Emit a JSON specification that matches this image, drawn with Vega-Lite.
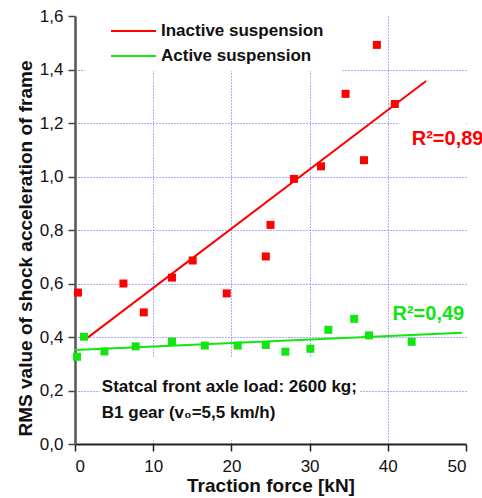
{
  "$schema": "https://vega.github.io/schema/vega-lite/v6.json",
  "width": 391,
  "height": 428,
  "autosize": {"type": "none"},
  "padding": {"left": 75, "top": 16, "right": 16, "bottom": 54},
  "background": "white",
  "config": {
    "view": {"stroke": null},
    "font": "Liberation Sans"
  },
  "datasets": {
    "points": [
      {"series": "Inactive suspension", "force": 0.38, "rms": 0.566},
      {"series": "Inactive suspension", "force": 6.19, "rms": 0.600},
      {"series": "Inactive suspension", "force": 8.79, "rms": 0.492},
      {"series": "Inactive suspension", "force": 12.4, "rms": 0.622},
      {"series": "Inactive suspension", "force": 15.05, "rms": 0.686},
      {"series": "Inactive suspension", "force": 19.4, "rms": 0.563},
      {"series": "Inactive suspension", "force": 24.4, "rms": 0.701},
      {"series": "Inactive suspension", "force": 25.0, "rms": 0.819},
      {"series": "Inactive suspension", "force": 28.0, "rms": 0.991},
      {"series": "Inactive suspension", "force": 31.46, "rms": 1.038},
      {"series": "Inactive suspension", "force": 34.6, "rms": 1.309},
      {"series": "Inactive suspension", "force": 36.96, "rms": 1.061},
      {"series": "Inactive suspension", "force": 38.6, "rms": 1.492},
      {"series": "Inactive suspension", "force": 40.9, "rms": 1.271},
      {"series": "Active suspension", "force": 0.26, "rms": 0.326},
      {"series": "Active suspension", "force": 1.15, "rms": 0.401},
      {"series": "Active suspension", "force": 3.76, "rms": 0.346},
      {"series": "Active suspension", "force": 7.76, "rms": 0.365},
      {"series": "Active suspension", "force": 12.4, "rms": 0.383},
      {"series": "Active suspension", "force": 16.6, "rms": 0.368},
      {"series": "Active suspension", "force": 20.8, "rms": 0.368},
      {"series": "Active suspension", "force": 24.4, "rms": 0.370},
      {"series": "Active suspension", "force": 26.9, "rms": 0.345},
      {"series": "Active suspension", "force": 30.1, "rms": 0.356},
      {"series": "Active suspension", "force": 32.4, "rms": 0.427},
      {"series": "Active suspension", "force": 35.7, "rms": 0.468},
      {"series": "Active suspension", "force": 37.6, "rms": 0.406},
      {"series": "Active suspension", "force": 43.05, "rms": 0.382}
    ],
    "fits": [
      {"series": "Inactive suspension", "force": 1.37, "rms": 0.392},
      {"series": "Inactive suspension", "force": 44.9, "rms": 1.357},
      {"series": "Active suspension", "force": 0, "rms": 0.351},
      {"series": "Active suspension", "force": 49.5, "rms": 0.416}
    ],
    "boxes": [
      {"force": 1.25, "force2": 34.2, "rms": 1.393, "rms2": 1.6},
      {"force": 41.5, "force2": 50, "rms": 1.15, "rms2": 1.25},
      {"force": 3.2, "force2": 36.4, "rms": 0.015, "rms2": 0.322}
    ]
  },
  "layer": [
    {
      "data": {"name": "boxes"},
      "mark": {"type": "rect", "fill": "white", "stroke": null},
      "encoding": {
        "x": {"field": "force", "type": "quantitative", "scale": {"domain": [0, 50], "nice": false}},
        "x2": {"field": "force2"},
        "y": {"field": "rms", "type": "quantitative", "scale": {"domain": [0, 1.6], "nice": false}},
        "y2": {"field": "rms2"}
      }
    },
    {
      "data": {"name": "fits"},
      "mark": {"type": "line", "strokeWidth": 2},
      "encoding": {
        "x": {"field": "force", "type": "quantitative", "scale": {"domain": [0, 50], "nice": false}},
        "y": {"field": "rms", "type": "quantitative", "scale": {"domain": [0, 1.6], "nice": false}},
        "detail": {"field": "series"},
        "color": {
          "field": "series",
          "type": "nominal",
          "scale": {"domain": ["Inactive suspension", "Active suspension"], "range": ["#ff0000", "#11e611"]},
          "legend": {
            "title": null,
            "orient": "none",
            "legendX": 35,
            "legendY": 6.5,
            "symbolType": "stroke",
            "symbolSize": 2025,
            "symbolStrokeWidth": 2,
            "clipHeight": 17,
            "rowPadding": 7,
            "labelOffset": 4,
            "labelLimit": 0,
            "labelFontSize": 17,
            "labelFontWeight": "bold",
            "labelColor": "#111111",
            "labelFont": "Liberation Sans",
            "padding": 0
          }
        }
      }
    },
    {
      "data": {"name": "points"},
      "mark": {"type": "point", "shape": "square", "filled": true, "size": 64, "opacity": 1},
      "encoding": {
        "x": {
          "field": "force",
          "type": "quantitative",
          "scale": {"domain": [0, 50], "nice": false},
          "axis": {
            "title": "Traction force [kN]",
            "values": [0, 5, 10, 15, 20, 25, 30, 35, 40, 45, 50],
            "labelExpr": "datum.value % 10 == 0 ? datum.label : ''",
            "labelFontSize": 17,
            "labelColor": "#111111",
            "labelPadding": 7,
            "labelFont": "Liberation Sans",
            "tickSize": {"condition": {"test": "datum.value % 10 != 0", "value": 4}, "value": 7},
            "tickColor": "#222222",
            "tickWidth": 1.5,
            "domainColor": "#222222",
            "domainWidth": 2,
            "grid": true,
            "gridColor": "#5a5af0",
            "gridDash": [1, 2],
            "gridWidth": 1,
            "gridOpacity": {"condition": {"test": "datum.value % 10 != 0 || datum.value == 0 || datum.value == 50", "value": 0}, "value": 1},
            "titleFontSize": 19,
            "titleFontWeight": "bold",
            "titleColor": "#111111",
            "titleFont": "Liberation Sans",
            "titlePadding": 2
          }
        },
        "y": {
          "field": "rms",
          "type": "quantitative",
          "scale": {"domain": [0, 1.6], "nice": false},
          "axis": {
            "title": "RMS value of shock acceleration of frame",
            "values": [0, 0.1, 0.2, 0.3, 0.4, 0.5, 0.6, 0.7, 0.8, 0.9, 1.0, 1.1, 1.2, 1.3, 1.4, 1.5, 1.6],
            "labelExpr": "round(datum.value * 10) % 2 == 0 ? replace(format(datum.value, '.1f'), '.', ',') : ''",
            "labelFontSize": 17,
            "labelColor": "#111111",
            "labelPadding": 5,
            "labelFont": "Liberation Sans",
            "tickSize": {"condition": {"test": "round(datum.value * 10) % 2 != 0", "value": 4}, "value": 7},
            "tickColor": "#444444",
            "tickWidth": 1.5,
            "domainColor": "#555555",
            "domainWidth": 2.5,
            "grid": true,
            "gridColor": "#5a5af0",
            "gridDash": [1, 2],
            "gridWidth": 1,
            "gridOpacity": {"condition": {"test": "round(datum.value * 10) % 2 != 0 || datum.value < 0.05 || datum.value > 1.55", "value": 0}, "value": 1},
            "titleFontSize": 19,
            "titleFontWeight": "bold",
            "titleColor": "#111111",
            "titleFont": "Liberation Sans",
            "titlePadding": 4,
            "titleY": 232
          }
        },
        "color": {
          "field": "series",
          "type": "nominal",
          "scale": {"domain": ["Inactive suspension", "Active suspension"], "range": ["#ff0000", "#11e611"]},
          "legend": null
        }
      }
    },
    {
      "data": {"values": [{}]},
      "mark": {"type": "text", "text": "R²=0,89", "fontSize": 20, "fontWeight": "bold", "color": "#ff0000", "align": "left", "baseline": "alphabetic", "font": "Liberation Sans"},
      "encoding": {
        "x": {"datum": 43.06, "type": "quantitative", "scale": {"domain": [0, 50], "nice": false}},
        "y": {"datum": 1.118, "type": "quantitative", "scale": {"domain": [0, 1.6], "nice": false}}
      }
    },
    {
      "data": {"values": [{}]},
      "mark": {"type": "text", "text": "R²=0,49", "fontSize": 20, "fontWeight": "bold", "color": "#11e611", "align": "left", "baseline": "alphabetic", "font": "Liberation Sans"},
      "encoding": {
        "x": {"datum": 40.6, "type": "quantitative", "scale": {"domain": [0, 50], "nice": false}},
        "y": {"datum": 0.464, "type": "quantitative", "scale": {"domain": [0, 1.6], "nice": false}}
      }
    },
    {
      "data": {"values": [{}]},
      "mark": {"type": "text", "text": ["Statcal front axle load: 2600 kg;", "B1 gear (v₀=5,5 km/h)"], "lineHeight": 26, "fontSize": 17, "fontWeight": "bold", "color": "#111111", "align": "left", "baseline": "alphabetic", "font": "Liberation Sans"},
      "encoding": {
        "x": {"datum": 3.43, "type": "quantitative", "scale": {"domain": [0, 50], "nice": false}},
        "y": {"datum": 0.195, "type": "quantitative", "scale": {"domain": [0, 1.6], "nice": false}}
      }
    }
  ]
}
